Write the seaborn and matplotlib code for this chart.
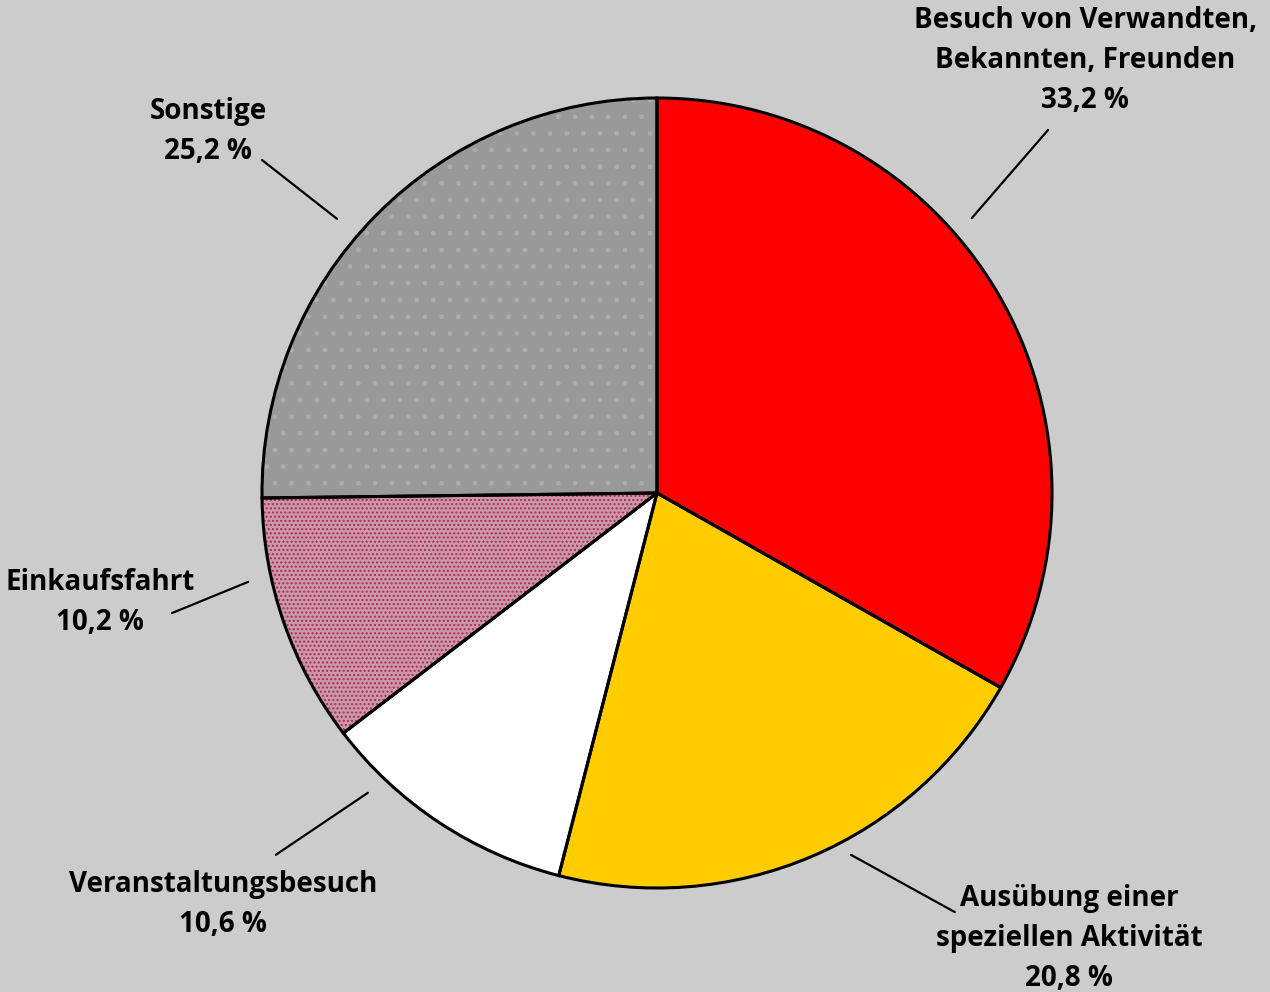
import matplotlib
matplotlib.use("Agg")
import matplotlib.pyplot as plt
import seaborn as sns

# Anteile der Freizeitwege nach Zweck
kategorien = ["Besuch von Verwandten,\nBekannten, Freunden",
              "Ausübung einer\nspeziellen Aktivität",
              "Veranstaltungsbesuch",
              "Einkaufsfahrt",
              "Sonstige"]
anteile = [33.2, 20.8, 10.6, 10.2, 25.2]
farben = ["#ff0000", "#ffcc00", "#ffffff", "#c999aa", "#999999"]
schraffur = [None, None, None, "....", "."]
schraffur_farben = ["#ff0000", "#ffcc00", "#ffffff", "#b02858", "#adadad"]

# Positionen der Beschriftungen (Einheiten: Kreisradius)
text_pos = [(1.084, 1.094), (1.043, -1.127), (-1.099, -1.041), (-1.41, -0.276), (-1.137, 0.914)]
linien = [((0.797, 0.696), (0.990, 0.919)),
          ((0.491, -0.916), (0.754, -1.061)),
          ((-0.732, -0.759), (-0.965, -0.916)),
          ((-1.035, -0.225), (-1.228, -0.304)),
          ((-0.810, 0.694), (-1.0, 0.843))]

sns.set_style("white")
plt.rcParams["font.family"] = ["Open Sans", "DejaVu Sans"]
plt.rcParams["hatch.linewidth"] = 1.0

fig = plt.figure(figsize=(12.7, 9.92), dpi=100, facecolor="#cccccc")
ax = fig.add_axes([0, 0, 1, 1])
ax.set_facecolor("#cccccc")

wedges, _ = ax.pie(anteile, colors=farben, startangle=90, counterclock=False,
                   radius=1, wedgeprops=dict(linewidth=0))
for w, h, hc in zip(wedges, schraffur, schraffur_farben):
    if h:
        w.set_hatch(h)
        w.set_edgecolor(hc)

# Umrisse
ax.pie(anteile, colors=["none"] * 5, startangle=90, counterclock=False, radius=1,
       wedgeprops=dict(linewidth=2.2, edgecolor="black", fill=False))

for kat, wert, (tx, ty), (p0, p1) in zip(kategorien, anteile, text_pos, linien):
    ax.plot([p0[0], p1[0]], [p0[1], p1[1]], color="black", lw=1.6)
    ax.text(tx, ty, f"{kat}\n{wert:.1f} %".replace(".", ","), ha="center", va="center",
            fontsize=20, fontweight="bold", color="black", linespacing=1.5)

ax.set_xlim(-657 / 395, (1270 - 657) / 395)
ax.set_ylim(-(992 - 493) / 395, 493 / 395)
ax.set_aspect("auto")
ax.axis("off")

fig.savefig("out.png", dpi=100, facecolor="#cccccc")
